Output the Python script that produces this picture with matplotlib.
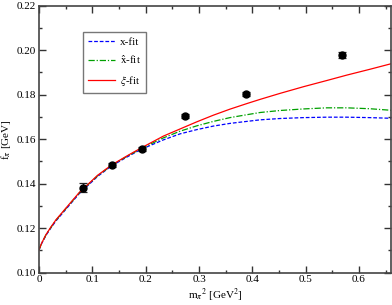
import matplotlib
matplotlib.use("Agg")
import matplotlib.pyplot as plt
from matplotlib.ticker import MultipleLocator, FormatStrFormatter

plt.rcParams['font.family'] = ['Liberation Serif', 'DejaVu Serif']
plt.rcParams['mathtext.fontset'] = 'stix'

# data points
m2_data = [0.083, 0.136, 0.1925, 0.274, 0.388, 0.569]
f_data = [0.1382, 0.1483, 0.1557, 0.1703, 0.1802, 0.1977]
f_err = [0.0019, 0.0009, 0.0009, 0.0009, 0.0009, 0.0013]

# fit curves
m2_red = [0, 0.005, 0.0131, 0.0225, 0.0319, 0.0507, 0.0757, 0.11, 0.136, 0.165,
          0.191, 0.2333, 0.2645, 0.2958, 0.327, 0.358, 0.3896, 0.4146, 0.452,
          0.496, 0.54, 0.577, 0.62, 0.66]
f_red = [0.1103, 0.1133, 0.1171, 0.1206, 0.1238, 0.1291, 0.1361, 0.1438, 0.1484,
         0.1525, 0.1560, 0.1614, 0.1646, 0.1678, 0.1708, 0.1735, 0.1760, 0.1779,
         0.1806, 0.1836, 0.1864, 0.1888, 0.1914, 0.1939]

m2_green = [0, 0.005, 0.0131, 0.0225, 0.0319, 0.0507, 0.0757, 0.11, 0.136, 0.165,
            0.191, 0.2333, 0.2645, 0.2958, 0.327, 0.358, 0.3896, 0.4146, 0.452,
            0.496, 0.54, 0.577, 0.62, 0.66]
f_green = [0.1103, 0.1132, 0.1170, 0.1204, 0.1236, 0.1289, 0.1359, 0.1436, 0.1482,
           0.1523, 0.1557, 0.1606, 0.1636, 0.1660, 0.1680, 0.1697, 0.1710, 0.1720,
           0.1729, 0.1736, 0.1741, 0.1741, 0.1737, 0.1730]

m2_blue = [0, 0.005, 0.0131, 0.0225, 0.0319, 0.0507, 0.0757, 0.11, 0.136, 0.165,
           0.191, 0.2333, 0.2645, 0.2958, 0.327, 0.358, 0.3896, 0.4146, 0.452,
           0.496, 0.54, 0.577, 0.62, 0.66]
f_blue = [0.1103, 0.1131, 0.1168, 0.1202, 0.1233, 0.1286, 0.1356, 0.1433, 0.1480,
          0.1520, 0.1554, 0.1597, 0.1624, 0.1643, 0.1659, 0.1671, 0.1680, 0.1687,
          0.1693, 0.1697, 0.1699, 0.1699, 0.1697, 0.1694]

labels = ['x-fit', r'$\hat{\rm x}$-fit', r'$\xi$-fit']

fig = plt.figure(figsize=(3.92, 3.05), dpi=100)
ax = fig.add_axes([39/392, 32.3/305, 352/392, 267/305])

ax.plot(m2_blue, f_blue, color='#0000ff', lw=0.9, ls=(0, (3, 1.5)), label=labels[0])
ax.plot(m2_green, f_green, color='#00a000', lw=0.9, ls=(0, (5, 1.5, 1, 1.5)), label=labels[1])
ax.plot(m2_red, f_red, color='#ff0000', lw=0.9, ls='-', label=labels[2])
ax.errorbar(m2_data, f_data, yerr=f_err, fmt='o', color='black', ms=5,
            ecolor='#222222', elinewidth=0.9, capsize=3, capthick=0.9, zorder=5)

ax.set_xlim(0, 0.66)
ax.set_ylim(0.10, 0.22)
ax.xaxis.set_major_locator(MultipleLocator(0.1))
ax.xaxis.set_minor_locator(MultipleLocator(0.05))
ax.yaxis.set_major_locator(MultipleLocator(0.02))
ax.yaxis.set_minor_locator(MultipleLocator(0.01))
ax.xaxis.set_major_formatter(FormatStrFormatter('%g'))
ax.yaxis.set_major_formatter(FormatStrFormatter('%.2f'))
ax.tick_params(which='both', direction='in', top=True, right=True,
               color='#333333', width=1.0, labelsize=8, pad=2)
ax.tick_params(which='major', length=5)
ax.tick_params(which='minor', length=2.5)
for s in ax.spines.values():
    s.set_color('#444444')
    s.set_linewidth(1.2)

ax.set_xlabel(r'm$_{\pi}$$^{2}$ [GeV$^{2}$]', fontsize=8, labelpad=2)
ax.set_ylabel(r'f$_{\pi}$ [GeV]', fontsize=8, labelpad=3)

leg = ax.legend(loc='upper left', bbox_to_anchor=(0.125, 0.9015), fontsize=8,
                frameon=True, fancybox=False, handlelength=2.4, handletextpad=0.45,
                borderpad=0.45, labelspacing=0.65, borderaxespad=0)
leg.get_frame().set_edgecolor('#555555')
leg.get_frame().set_linewidth(1.0)

fig.savefig('out.png', dpi=100)
